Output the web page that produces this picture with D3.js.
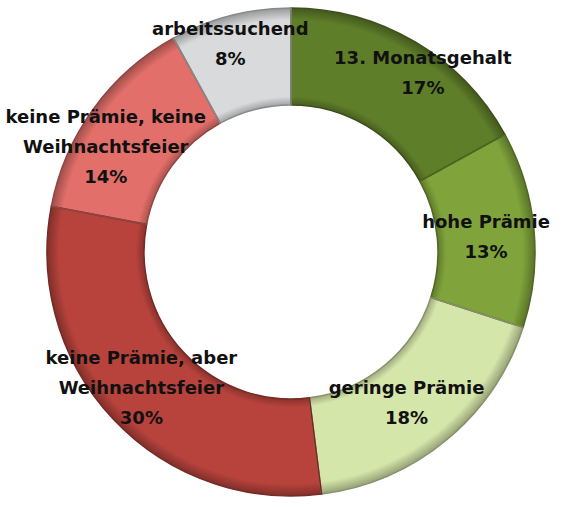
<!DOCTYPE html>
<html>
<head>
<meta charset="utf-8">
<script src="https://cdn.jsdelivr.net/npm/d3@7"></script>
<style>
  body { margin: 0; background: #fff; }
  svg { display: block; }
</style>
</head>
<body>
<svg id="chart" width="564" height="508"></svg>
<script>
// slice data, clockwise from 12 o'clock
var categories = ["13. Monatsgehalt", "hohe Prämie", "geringe Prämie",
                  "keine Prämie, aber Weihnachtsfeier", "keine Prämie, keine Weihnachtsfeier",
                  "arbeitssuchend"];
var values = [17, 13, 18, 30, 14, 8];
var labelLines = [
  ["13. Monatsgehalt"],
  ["hohe Prämie"],
  ["geringe Prämie"],
  ["keine Prämie, aber", "Weihnachtsfeier"],
  ["keine Prämie, keine", "Weihnachtsfeier"],
  ["arbeitssuchend"]
];
var colors = ["#5f7e29", "#80a43b", "#d5e6aa", "#b8433c", "#e36f6a", "#d9dadc"];

// layout
var cx = 291, cy = 252, rOuter = 244, rInner = 147, rLabel = 208;
var lineH = 30;
// hand nudges for labels (Excel placed some by hand)
var nudge = [[26, 0], [-12, 5], [-17, -9], [2, -6], [-17, 17], [-9, -7]];

var svg = d3.select("#chart");
var defs = svg.append("defs");

// rim shading, gradient in the ring's local coords (centre at 0,0)
var grad = defs.append("radialGradient")
  .attr("id", "bevel")
  .attr("gradientUnits", "userSpaceOnUse")
  .attr("cx", 0).attr("cy", 0).attr("r", rOuter);
var k0 = rInner / rOuter;
[[0, 0.25], [k0, 0.25], [k0 + 0.035, 0], [0.95, 0], [1, 0.3]]
  .forEach(function(s) {
    grad.append("stop").attr("offset", s[0]).attr("stop-color", "#000").attr("stop-opacity", s[1]);
  });

var pie = d3.pie().sort(null).value(function(d) { return d; });
var arcs = pie(values);

var arc = d3.arc().innerRadius(rInner).outerRadius(rOuter);
var labelArc = d3.arc().innerRadius(rLabel).outerRadius(rLabel);

var g = svg.append("g").attr("transform", "translate(" + cx + "," + cy + ")");

g.selectAll("path.slice")
  .data(arcs)
  .enter().append("path")
  .attr("class", "slice")
  .attr("d", arc)
  .attr("fill", function(d, i) { return colors[i]; });

g.selectAll("path.shade")
  .data(arcs)
  .enter().append("path")
  .attr("class", "shade")
  .attr("d", arc)
  .attr("fill", "url(#bevel)");

g.selectAll("path.edge")
  .data(arcs)
  .enter().append("path")
  .attr("class", "edge")
  .attr("d", arc)
  .attr("fill", "none")
  .attr("stroke", function(d, i) { return d3.color(colors[i]).darker(1.3); })
  .attr("stroke-width", 1.5);

var labels = svg.append("g")
  .attr("transform", "translate(" + cx + "," + cy + ")")
  .attr("font-family", "'DejaVu Sans', sans-serif")
  .attr("font-weight", "bold")
  .attr("font-size", 18)
  .attr("fill", "#111")
  .attr("text-anchor", "middle");

labels.selectAll("text")
  .data(arcs)
  .enter().append("text")
  .each(function(d, i) {
    var c = labelArc.centroid(d);
    var x = c[0] + nudge[i][0], y = c[1] + nudge[i][1];
    var lines = labelLines[i].concat([values[i] + "%"]);
    var n = lines.length;
    var t = d3.select(this);
    lines.forEach(function(s, k) {
      t.append("tspan")
        .attr("x", x)
        .attr("y", y + (k - (n - 1) / 2) * lineH + 6)
        .text(s);
    });
  });
</script>
</body>
</html>
